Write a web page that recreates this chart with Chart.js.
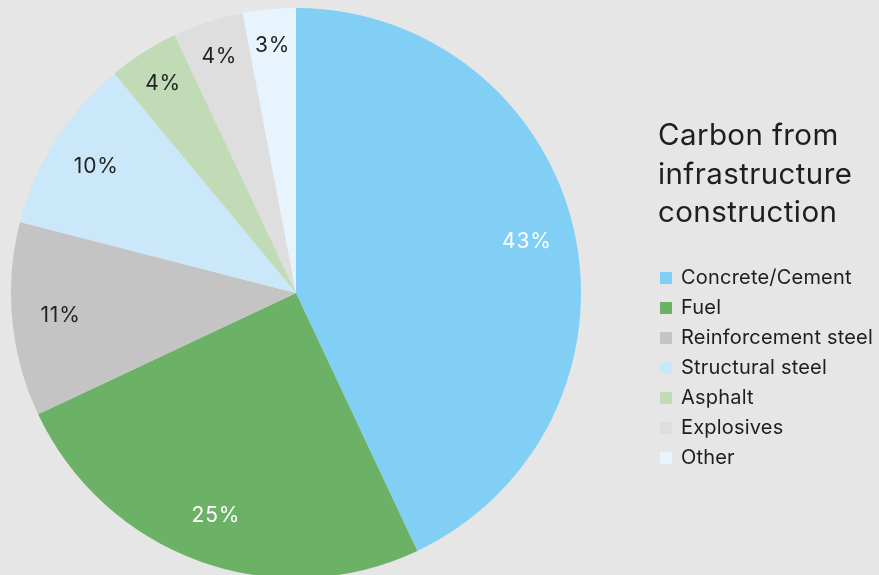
<!DOCTYPE html>
<html>
<head>
<meta charset="utf-8">
<script src="https://cdn.jsdelivr.net/npm/chart.js@4.4.1/dist/chart.umd.min.js"></script>
<style>
  html, body { margin: 0; padding: 0; background: #e6e6e6; overflow: hidden; width: 879px; height: 575px; }
  #wrap { position: relative; width: 879px; height: 575px; overflow: hidden; }
  canvas { position: absolute; left: 0; top: 0; }
  #legend { position: absolute; left: 658px; top: 115px; font-family: Inter, "Noto Sans", sans-serif; color: #1e1e1e; }
  #legend h1 { margin: 0; font-weight: 400; font-size: 29.5px; line-height: 38.5px; letter-spacing: 0.4px; }
  #legend ul { list-style: none; margin: 0; padding: 0; position: absolute; top: 147px; left: 0; white-space: nowrap; }
  #legend li { height: 30px; line-height: 30px; font-size: 20px; letter-spacing: 0.2px; position: relative; padding-left: 23px; }
  #legend li span.box { position: absolute; left: 2px; top: 10px; width: 12px; height: 12px; }
</style>
</head>
<body>
<div id="wrap">
  <canvas id="c" width="879" height="586"></canvas>
  <div id="legend"><h1 id="title"></h1><ul id="items"></ul></div>
</div>
<script>
const titleLines = ["Carbon from", "infrastructure", "construction"];
const categories = ["Concrete/Cement", "Fuel", "Reinforcement steel", "Structural steel", "Asphalt", "Explosives", "Other"];
const shares = [43, 25, 11, 10, 4, 4, 3];
const sliceColors = ["#81cff4", "#6cb266", "#c4c4c4", "#cbe8fa", "#c1dbb7", "#dedede", "#e7f4fe"];
const labelColors = ["#ffffff", "#ffffff", "#222222", "#222222", "#222222", "#222222", "#222222"];

const labelPlugin = {
  id: 'sliceLabels',
  afterDatasetsDraw(chart) {
    const ctx = chart.ctx;
    const meta = chart.getDatasetMeta(0);
    ctx.save();
    ctx.font = '400 21px Inter, "Noto Sans", sans-serif';
    if ('letterSpacing' in ctx) ctx.letterSpacing = '0.8px';
    ctx.textAlign = 'center';
    ctx.textBaseline = 'middle';
    meta.data.forEach((arc, i) => {
      const p = arc.getProps(['x', 'y', 'startAngle', 'endAngle', 'outerRadius'], true);
      const mid = (p.startAngle + p.endAngle) / 2;
      const frac = shares[i] < 8 ? 0.87 : 0.83;
      const r = p.outerRadius * frac;
      ctx.fillStyle = labelColors[i];
      ctx.fillText(shares[i] + '%', p.x + Math.cos(mid) * r, p.y + Math.sin(mid) * r);
    });
    ctx.restore();
  }
};

const chart = new Chart(document.getElementById('c'), {
  type: 'pie',
  data: {
    labels: categories,
    datasets: [{ data: shares, backgroundColor: sliceColors, borderWidth: 0, hoverOffset: 0 }]
  },
  options: {
    responsive: false,
    devicePixelRatio: 1,
    animation: false,
    layout: { padding: { left: 11, right: 298, top: 8, bottom: 8 } },
    plugins: { legend: { display: false }, tooltip: { enabled: false } }
  },
  plugins: [labelPlugin]
});

document.getElementById('title').innerHTML = titleLines.join('<br>');
const ul = document.getElementById('items');
categories.forEach((c, i) => {
  const li = document.createElement('li');
  const box = document.createElement('span');
  box.className = 'box';
  box.style.background = sliceColors[i];
  li.appendChild(box);
  li.appendChild(document.createTextNode(c));
  ul.appendChild(li);
});
</script>
</body>
</html>
